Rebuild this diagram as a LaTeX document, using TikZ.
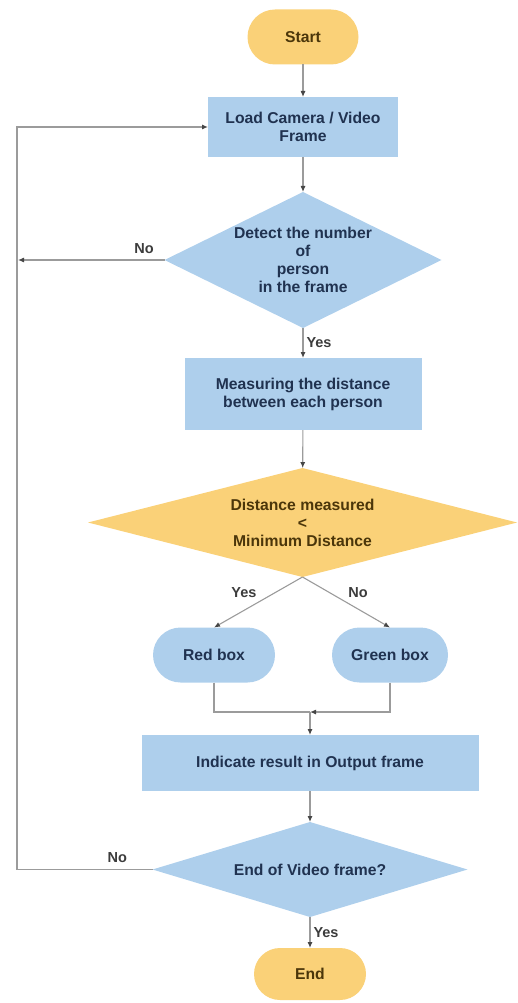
\documentclass[tikz,border=0pt]{standalone}
\usepackage{fontspec}
\setmainfont{Liberation Sans}
\usetikzlibrary{arrows.meta,positioning,shapes.geometric,shapes.misc}
\definecolor{boxfill}{RGB}{174,207,236}
\definecolor{termfill}{RGB}{250,209,120}
\definecolor{boxtext}{RGB}{32,50,80}
\definecolor{termtext}{RGB}{75,54,10}
\definecolor{linegray}{RGB}{155,155,155}
\definecolor{tipgray}{RGB}{70,70,70}
\definecolor{lbltext}{RGB}{60,60,60}

\tikzset{
  base/.style={font=\bfseries\fontsize{15.7}{18}\selectfont, align=center, inner sep=0pt, outer sep=0pt},
  term/.style={base, rounded rectangle, fill=termfill, text=termtext},
  procbox/.style={base, fill=boxfill, text=boxtext},
  pill/.style={base, rounded rectangle, fill=boxfill, text=boxtext},
  decision/.style={diamond, inner sep=0pt, outer sep=0pt},
  flow/.style={draw=linegray, line width=1.1pt, -{Latex[length=6pt,width=5pt,color=tipgray]}},
  link/.style={draw=linegray, line width=1.1pt},
  lbl/.style={font=\bfseries\fontsize{14.5}{16}\selectfont, text=lbltext, inner sep=1pt}
}

\begin{document}
\begin{tikzpicture}[x=1pt, y=-1pt]
  \useasboundingbox (0,0) rectangle (517,1003);

  % Terminals and process steps
  \node[term, minimum width=111pt, minimum height=55pt] (start) at (303,37) {Start};
  \node[procbox, minimum width=190pt, minimum height=60pt] (load) at (303,127) {Load Camera / Video\\Frame};
  \node[decision, fill=boxfill, minimum width=277pt, minimum height=136pt,
        label={[base, text=boxtext]center:{Detect the number\\of\\person\\in the frame}}] (d1) at (303,260) {};
  \node[procbox, minimum width=237pt, minimum height=72pt] (meas) at (303,394) {Measuring the distance\\between each person};
  \node[decision, fill=termfill, minimum width=429pt, minimum height=109pt,
        label={[base, text=termtext]center:{Distance measured\\<\\Minimum Distance}}] (d2) at (302.5,522.5) {};

  % Result boxes
  \node[pill, minimum width=122pt, minimum height=55pt] (red) at (214,655) {Red box};
  \node[pill, minimum width=116pt, minimum height=55pt] (green) at (390,655) {Green box};

  \node[procbox, minimum width=337pt, minimum height=56pt] (ind) at (310,763) {Indicate result in Output frame};
  \node[decision, fill=boxfill, minimum width=315pt, minimum height=95pt,
        label={[base, text=boxtext]center:{End of Video frame?}}] (d3) at (310,869.5) {};
  \node[term, minimum width=112pt, minimum height=52pt] (end) at (310,974) {End};

  % Helper points
  \coordinate (nol) at (18,260);
  \coordinate (mrg) at (310,712);
  \coordinate (loopc) at (17,869.5);

  % Connectors
  \draw[flow] (start) -- (load);
  \draw[flow] (load) -- (d1);
  \draw[flow] (d1.west) -- node[lbl, pos=0.14, above=5pt] (no1) {No} (nol);
  \draw[flow] (d1.south) -- node[lbl, right=2pt] (yes1) {Yes} (meas.north);
  \draw[flow] (meas) -- (d2);
  \draw[flow] (d2.south) -- node[lbl, pos=0.3, left=18pt] (yes2) {Yes} (red.north);
  \draw[flow] (d2.south) -- node[lbl, pos=0.3, right=18pt] (no2) {No} (green.north);
  \draw[link] (red.south) |- (mrg);
  \draw[flow] (green.south) |- (mrg);
  \draw[flow] (mrg) -- (ind);
  \draw[flow] (ind) -- (d3);
  \draw[flow] (d3.west) -- node[lbl, pos=0.26, above=5pt] (no3) {No} (loopc) |- (load.west);
  \draw[flow] (d3.south) -- node[lbl, right=2pt] (yes3) {Yes} (end);
\end{tikzpicture}
\end{document}
